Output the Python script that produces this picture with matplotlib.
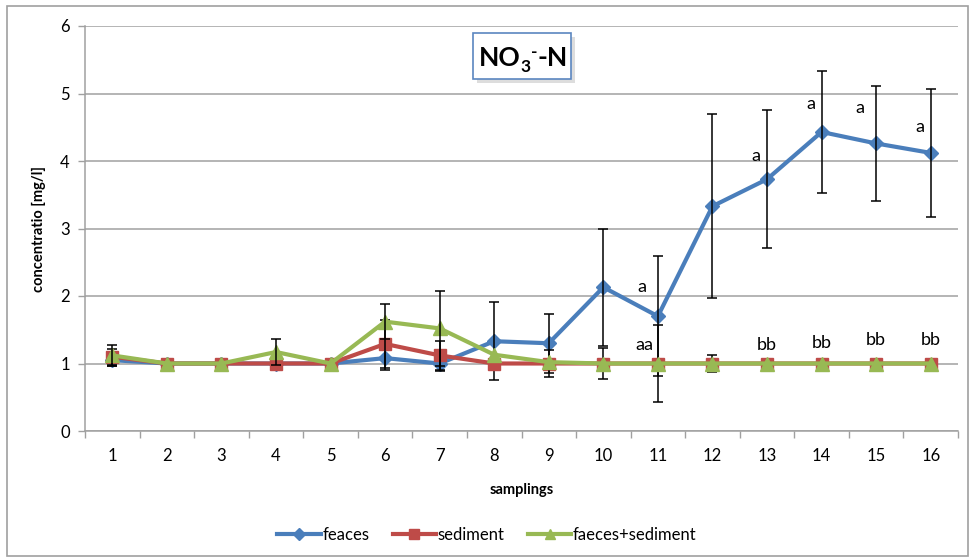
import matplotlib
matplotlib.use("Agg")
import matplotlib.pyplot as plt
from matplotlib.patches import Rectangle
import matplotlib.patheffects as pe

plt.rcParams['font.family'] = ['Lato', 'DejaVu Sans']

samplings = list(range(1, 17))
tick_labels = [str(s) for s in samplings]

feaces = [1.05, 1.0, 1.0, 1.0, 1.0, 1.08, 1.0, 1.33, 1.30, 2.13, 1.70, 3.33, 3.73, 4.43, 4.26, 4.12]
feaces_err = [0.09, 0, 0, 0, 0, 0.17, 0.11, 0.575, 0.44, 0.87, 0.89, 1.36, 1.02, 0.90, 0.85, 0.95]

sediment = [1.10, 1.0, 1.0, 1.0, 1.0, 1.29, 1.12, 1.0, 1.0, 1.0, 1.0, 1.0, 1.0, 1.0, 1.0, 1.0]
sediment_err = [0.12, 0, 0, 0, 0, 0.36, 0.22, 0, 0.20, 0.23, 0.57, 0.13, 0, 0, 0, 0]

faeces_sediment = [1.12, 1.0, 1.0, 1.17, 1.0, 1.62, 1.52, 1.13, 1.02, 1.0, 1.0, 1.0, 1.0, 1.0, 1.0, 1.0]
faeces_sediment_err = [0.16, 0, 0, 0.19, 0, 0.26, 0.55, 0, 0, 0, 0, 0, 0, 0, 0, 0]

# significance letters: (x, y, text)
letter_x = [10.7, 12.8, 13.8, 14.7, 15.8, 10.75, 13.0, 14.0, 15.0, 16.0]
letter_y = [2.02, 3.95, 4.72, 4.66, 4.38, 1.15, 1.15, 1.19, 1.23, 1.23]
letter_t = ['a', 'a', 'a', 'a', 'a', 'aa', 'bb', 'bb', 'bb', 'bb']

c_blue = '#4a7ebb'
c_red = '#be4b48'
c_green = '#98b954'

W, H = 974, 559
fig = plt.figure(figsize=(9.74, 5.59), dpi=100)
ax = fig.add_axes([85/W, 1-431/H, (958-85)/W, (431-26)/H])

series = [
    (feaces, feaces_err, c_blue, 'D', 7.5, 'feaces'),
    (sediment, sediment_err, c_red, 's', 9, 'sediment'),
    (faeces_sediment, faeces_sediment_err, c_green, '^', 10, 'faeces+sediment'),
]
for i, (vals, errs, col, mk, ms, lab) in enumerate(series):
    z = 3 + 2 * i
    ax.plot(samplings, vals, color=col, lw=3, marker=mk, ms=ms, mec=col, mfc=col, zorder=z, label=lab)
    xs = [x for x, e in zip(samplings, errs) if e > 0]
    ys = [v for v, e in zip(vals, errs) if e > 0]
    es = [e for e in errs if e > 0]
    ax.errorbar(xs, ys, yerr=es, fmt='none', ecolor='black', elinewidth=1.1, capsize=3.5, capthick=1.1, zorder=z + 1)

for x, y, t in zip(letter_x, letter_y, letter_t):
    ax.text(x, y, t, fontsize=13, ha='center', va='bottom', zorder=10)

ax.set_xlim(0.5, 16.5)
ax.set_ylim(0, 6)
ax.set_yticks(range(0, 7))
ax.set_xticks(samplings)
ax.set_xticklabels(tick_labels)
ax.set_xticks([x + 0.5 for x in range(0, 17)], minor=True)
ax.tick_params(axis='x', which='major', length=0, pad=12, labelsize=12)
ax.tick_params(axis='x', which='minor', length=5, color='#a0a0a0', width=1)
ax.tick_params(axis='y', which='major', length=5, color='#a0a0a0', width=1, labelsize=12, pad=6)
ax.grid(axis='y', color='#a0a0a0', lw=1.1)
ax.set_axisbelow(True)
for s in ['top', 'right']:
    ax.spines[s].set_visible(False)
for s in ['left', 'bottom']:
    ax.spines[s].set_color('#a0a0a0')
    ax.spines[s].set_linewidth(1.1)

ax.set_ylabel('concentratio [mg/l]', fontsize=10.5, fontweight='bold', labelpad=10)
ax.set_xlabel('samplings', fontsize=10.5, fontweight='bold', labelpad=14)

# title box (drawn by hand so the superscript sits after the subscript)
box = Rectangle((473/W, 1-79/H), (571-473)/W, (79-33)/H, transform=fig.transFigure,
                fc='white', ec='#5b86c0', lw=1.2, zorder=20,
                path_effects=[pe.withSimplePatchShadow(offset=(3, -3), shadow_rgbFace='#bdbdbd', alpha=0.5)])
fig.patches.append(box)
renderer = fig.canvas.get_renderer()
base_y = 1 - 66/H
title_parts = [('NO', 19, 0), ('3', 12.5, -6), ('-', 12.5, 9), ('-N', 19, 0)]
cx = 479
for txt, fs, dy in title_parts:
    t = fig.text(cx/W, base_y + dy/H, txt, fontsize=fs, fontweight='bold', ha='left', va='baseline', zorder=21)
    bb = t.get_window_extent(renderer)
    cx += bb.width + (0 if txt != '3' else 0)

fig.legend(loc='center', bbox_to_anchor=(0.5, 1-535/H), ncol=3, frameon=False, fontsize=12,
           handlelength=2.6, columnspacing=1.4, handletextpad=0.1, markerscale=0.75)

fig.patches.append(Rectangle((7/W, 3/H), (968-7)/W, (553-3)/H, transform=fig.transFigure,
                             fill=False, ec='#a0a0a0', lw=1.2))

fig.savefig('out.png', dpi=100)
